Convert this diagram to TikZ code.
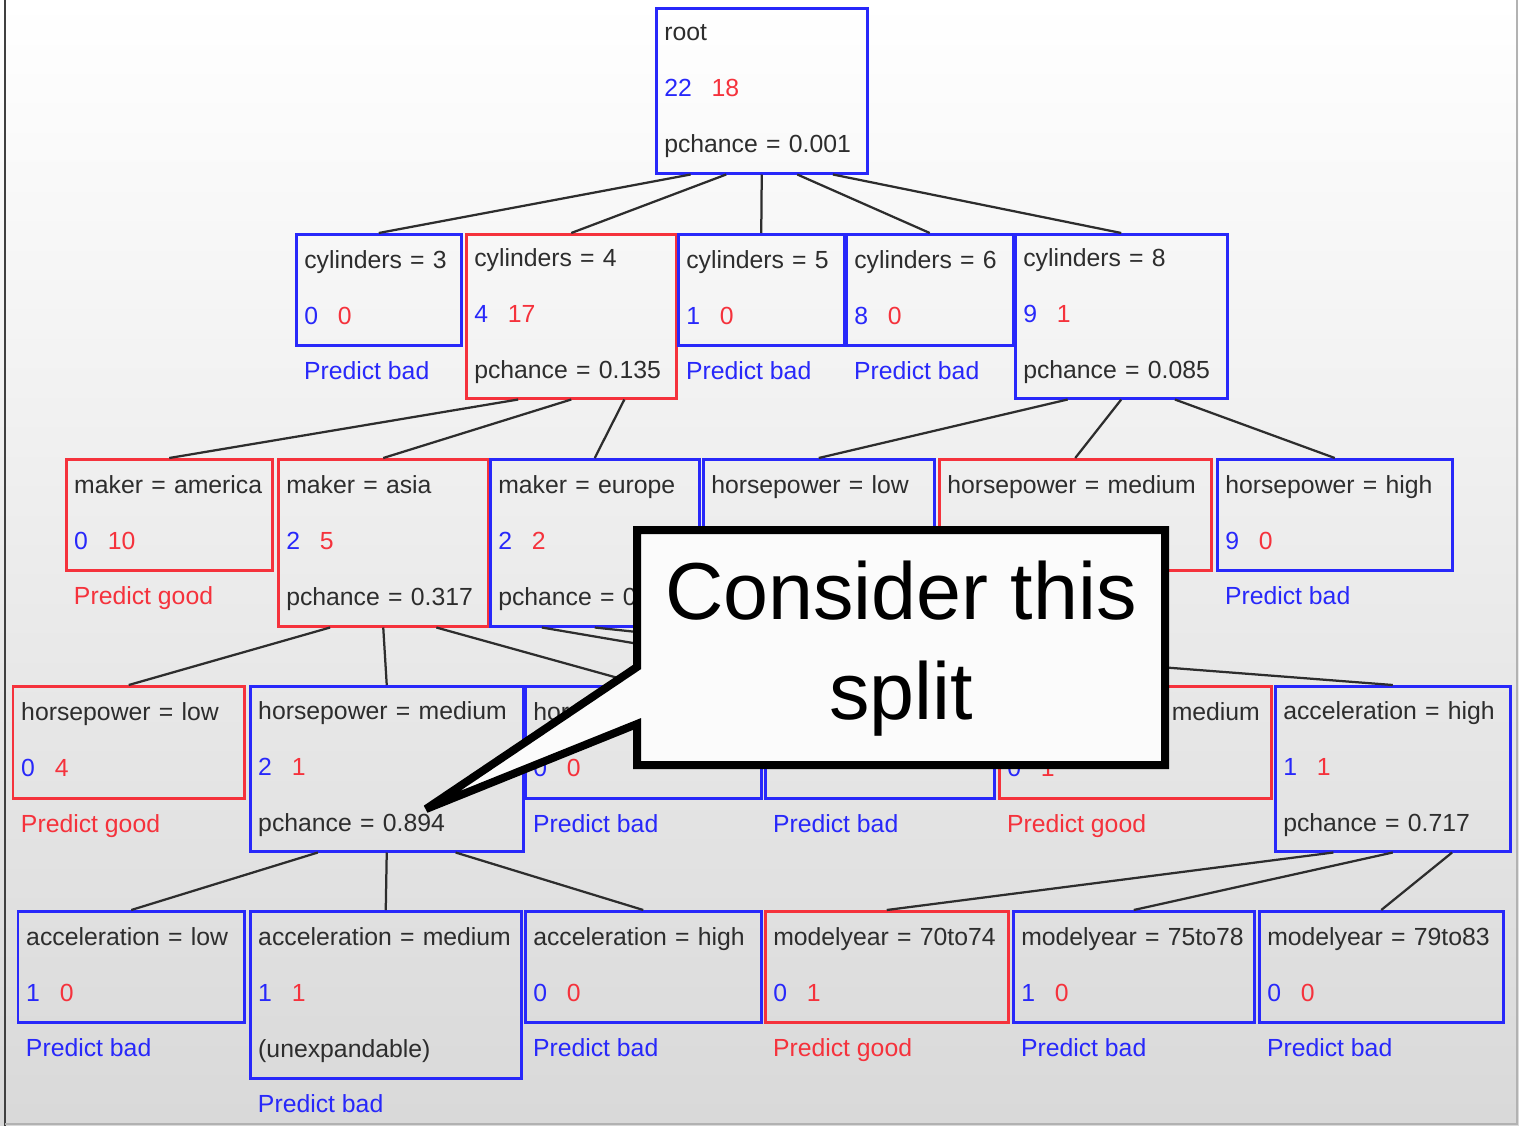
\documentclass[tikz,border=0pt]{standalone}
\usepackage{fontspec}
\setmainfont{Liberation Sans}
\usetikzlibrary{positioning,calc}

\definecolor{tblue}{RGB}{40,40,250}
\definecolor{tred}{RGB}{245,50,60}
\definecolor{ink}{RGB}{45,45,45}

\newcommand{\treefont}{\fontsize{14.1pt}{31.9pt}\selectfont}
\newcommand{\dstrut}{\rule[-0.1cm]{0pt}{0.1cm}}
\newcommand{\counts}[2]{{\color{tblue}#1}\hspace{0.8em}{\color{tred}#2}\dstrut}

\begin{document}
\begin{tikzpicture}[
    x=0.02cm, y=-0.02cm,
    tbox/.style={draw=#1, line width=0.05cm, anchor=north west, align=left,
        inner xsep=0.16cm, inner ysep=0pt, text=ink, font=\treefont},
    size/.style 2 args={text width=#1*0.02cm-0.32cm, minimum height=#2*0.02cm},
    pred/.style={text=#1, font=\treefont, inner sep=0pt, outer sep=0pt},
    link/.style={draw=ink, line width=0.045cm},
    callout/.style={draw=black, fill=gray!3, line width=0.16cm, miter limit=3},
]
\useasboundingbox (0,0) rectangle (1519,1126);

% Background and window frame
\shade[top color=white, middle color=gray!9, bottom color=gray!30] (0,0) rectangle (1519,1126);
\draw[black!75, line width=0.06cm] (5,0) -- (5,1126);
\draw[gray!60, line width=0.04cm] (5,1124) -- (1517,1124) -- (1517,0);

% Root
\node[tbox=tblue, size={211}{165}] (root) at (655,7) {root\\\counts{22}{18}\\pchance = 0.001};

% Split on cylinders
\node[tbox=tblue, size={165}{111}] (cyl3) at (295,233) {cylinders = 3\\\counts{0}{0}};
\node[tbox=tred, size={210}{164}] (cyl4) at (465,233) {cylinders = 4\\\counts{4}{17}\\pchance = 0.135};
\node[tbox=tblue, size={166}{111}] (cyl5) at (677,233) {cylinders = 5\\\counts{1}{0}};
\node[tbox=tblue, size={167}{111}] (cyl6) at (845,233) {cylinders = 6\\\counts{8}{0}};
\node[tbox=tblue, size={212}{164}] (cyl8) at (1014,233) {cylinders = 8\\\counts{9}{1}\\pchance = 0.085};
\node[pred=tblue, below right=0.31cm and 0.18cm of cyl3.south west] (cyl3p) {Predict bad};
\node[pred=tblue, below right=0.31cm and 0.18cm of cyl5.south west] (cyl5p) {Predict bad};
\node[pred=tblue, below right=0.31cm and 0.18cm of cyl6.south west] (cyl6p) {Predict bad};

% Split on maker / horsepower
\node[tbox=tred, size={206}{111}] (america) at (65,458) {maker = america\\\counts{0}{10}};
\node[tbox=tred, size={210}{167}] (asia) at (277,458) {maker = asia\\\counts{2}{5}\\pchance = 0.317};
\node[tbox=tblue, size={209}{167}] (europe) at (489,458) {maker = europe\\\counts{2}{2}\\pchance = 0};
\node[tbox=tblue, size={231}{111}] (hplow) at (702,458) {horsepower = low\\\dstrut};
\node[tbox=tred, size={272}{111}] (hpmed) at (938,458) {horsepower = medium\\\dstrut};
\node[tbox=tblue, size={235}{111}] (hphigh) at (1216,458) {horsepower = high\\\counts{9}{0}};
\node[pred=tred, below right=0.31cm and 0.18cm of america.south west] (americap) {Predict good};
\node[pred=tblue, below right=0.31cm and 0.18cm of hphigh.south west] (hphighp) {Predict bad};

% Third level
\node[tbox=tred, size={231}{112}] (ahplow) at (12,685) {horsepower = low\\\counts{0}{4}};
\node[tbox=tblue, size={273}{165}] (ahpmed) at (249,685) {horsepower = medium\\\counts{2}{1}\\pchance = 0.894};
\node[tbox=tblue, size={236}{112}] (ahphigh) at (524,685) {horsepower = high\\\counts{0}{0}};
\node[tbox=tblue, size={229}{112}] (eacclow) at (764,685) {\mbox{}\\\counts{1}{0}};
\node[tbox=tred, size={272}{112}] (eaccmed) at (998,685) {acceleration = medium\\\counts{0}{1}};
\node[tbox=tblue, size={235}{165}] (eacchigh) at (1274,685) {acceleration = high\\\counts{1}{1}\\pchance = 0.717};
\node[pred=tred, below right=0.31cm and 0.18cm of ahplow.south west] (ahplowp) {Predict good};
\node[pred=tblue, below right=0.31cm and 0.18cm of ahphigh.south west] (ahphighp) {Predict bad};
\node[pred=tblue, below right=0.31cm and 0.18cm of eacclow.south west] (eacclowp) {Predict bad};
\node[pred=tred, below right=0.31cm and 0.18cm of eaccmed.south west] (eaccmedp) {Predict good};

% Leaves
\node[tbox=tblue, size={226}{111}] (acclow) at (17,910) {acceleration = low\\\counts{1}{0}};
\node[tbox=tblue, size={271}{167}] (accmed) at (249,910) {acceleration = medium\\\counts{1}{1}\\(unexpandable)};
\node[tbox=tblue, size={236}{111}] (acchigh) at (524,910) {acceleration = high\\\counts{0}{0}};
\node[tbox=tred, size={243}{111}] (my70) at (764,910) {modelyear = 70to74\\\counts{0}{1}};
\node[tbox=tblue, size={241}{111}] (my75) at (1012,910) {modelyear = 75to78\\\counts{1}{0}};
\node[tbox=tblue, size={244}{111}] (my79) at (1258,910) {modelyear = 79to83\\\counts{0}{0}};
\node[pred=tblue, below right=0.31cm and 0.18cm of acclow.south west] (acclowp) {Predict bad};
\node[pred=tblue, below right=0.31cm and 0.18cm of accmed.south west] (accmedp) {Predict bad};
\node[pred=tblue, below right=0.31cm and 0.18cm of acchigh.south west] (acchighp) {Predict bad};
\node[pred=tred, below right=0.31cm and 0.18cm of my70.south west] (my70p) {Predict good};
\node[pred=tblue, below right=0.31cm and 0.18cm of my75.south west] (my75p) {Predict bad};
\node[pred=tblue, below right=0.31cm and 0.18cm of my79.south west] (my79p) {Predict bad};

% Branches
\draw[link] ($(root.south west)!1/6!(root.south east)$) -- (cyl3.north);
\draw[link] ($(root.south west)!2/6!(root.south east)$) -- (cyl4.north);
\draw[link] ($(root.south west)!3/6!(root.south east)$) -- (cyl5.north);
\draw[link] ($(root.south west)!4/6!(root.south east)$) -- (cyl6.north);
\draw[link] ($(root.south west)!5/6!(root.south east)$) -- (cyl8.north);

\draw[link] ($(cyl4.south west)!1/4!(cyl4.south east)$) -- (america.north);
\draw[link] ($(cyl4.south west)!2/4!(cyl4.south east)$) -- (asia.north);
\draw[link] ($(cyl4.south west)!3/4!(cyl4.south east)$) -- (europe.north);
\draw[link] ($(cyl8.south west)!1/4!(cyl8.south east)$) -- (hplow.north);
\draw[link] ($(cyl8.south west)!2/4!(cyl8.south east)$) -- (hpmed.north);
\draw[link] ($(cyl8.south west)!3/4!(cyl8.south east)$) -- (hphigh.north);

\draw[link] ($(asia.south west)!1/4!(asia.south east)$) -- (ahplow.north);
\draw[link] ($(asia.south west)!2/4!(asia.south east)$) -- (ahpmed.north);
\draw[link] ($(asia.south west)!3/4!(asia.south east)$) -- (ahphigh.north);
\draw[link] ($(europe.south west)!1/4!(europe.south east)$) -- (eacclow.north);
\draw[link] ($(europe.south west)!2/4!(europe.south east)$) -- (eaccmed.north);
\draw[link] ($(europe.south west)!3/4!(europe.south east)$) -- (eacchigh.north);

\draw[link] ($(ahpmed.south west)!1/4!(ahpmed.south east)$) -- (acclow.north);
\draw[link] ($(ahpmed.south west)!2/4!(ahpmed.south east)$) -- (accmed.north);
\draw[link] ($(ahpmed.south west)!3/4!(ahpmed.south east)$) -- (acchigh.north);
\draw[link] ($(eacchigh.south west)!1/4!(eacchigh.south east)$) -- (my70.north);
\draw[link] ($(eacchigh.south west)!2/4!(eacchigh.south east)$) -- (my75.north);
\draw[link] ($(eacchigh.south west)!3/4!(eacchigh.south east)$) -- (my79.north);

% Callout pointing at the split
\filldraw[callout] (637,530) -- (1165,530) -- (1165,765) -- (637,765) -- (637,724)
    -- (426,809) -- (637,667) -- cycle;
\node[font=\fontsize{46pt}{57pt}\selectfont, align=center] (note) at (901,649) {Consider this\\split};

\end{tikzpicture}
\end{document}
